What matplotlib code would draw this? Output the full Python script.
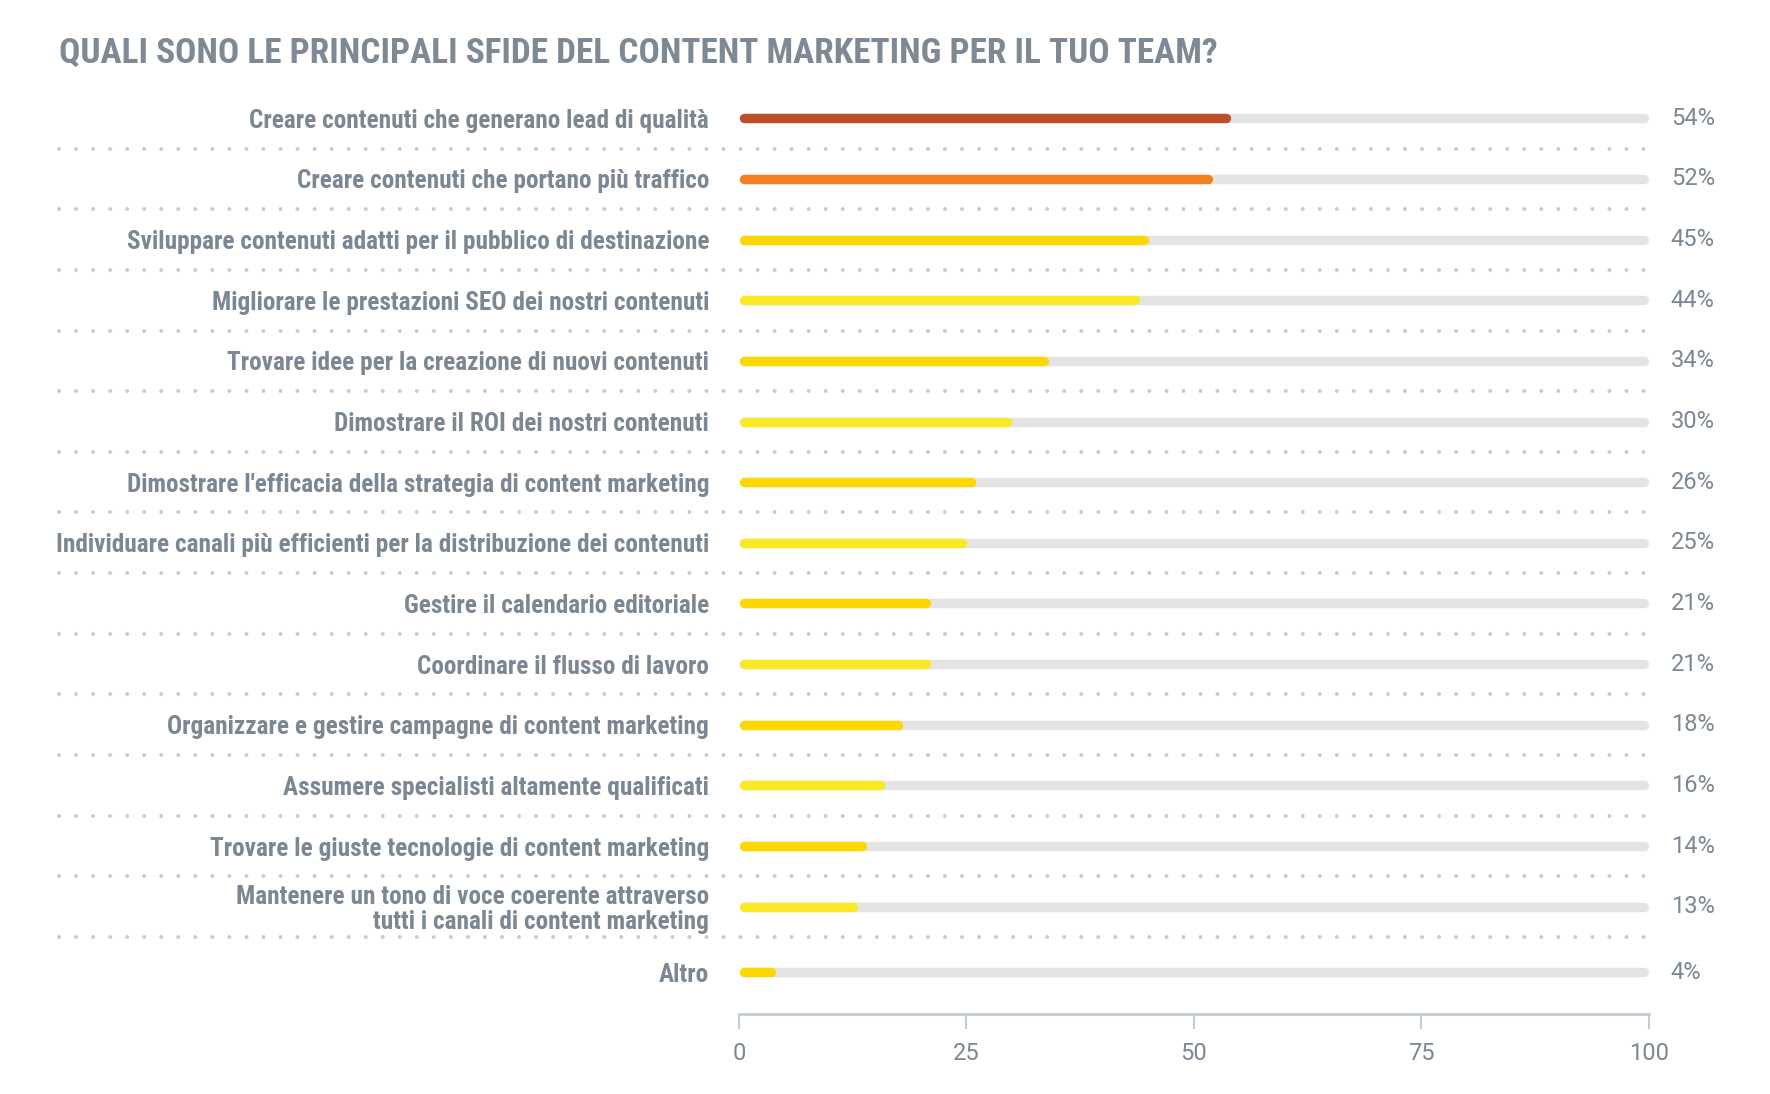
import numpy as np
import matplotlib
matplotlib.use("Agg")
import matplotlib.pyplot as plt
import matplotlib.transforms as mtransforms
from matplotlib import font_manager

# Data
labels = [
    "Creare contenuti che generano lead di qualità",
    "Creare contenuti che portano più traffico",
    "Sviluppare contenuti adatti per il pubblico di destinazione",
    "Migliorare le prestazioni SEO dei nostri contenuti",
    "Trovare idee per la creazione di nuovi contenuti",
    "Dimostrare il ROI dei nostri contenuti",
    "Dimostrare l'efficacia della strategia di content marketing",
    "Individuare canali più efficienti per la distribuzione dei contenuti",
    "Gestire il calendario editoriale",
    "Coordinare il flusso di lavoro",
    "Organizzare e gestire campagne di content marketing",
    "Assumere specialisti altamente qualificati",
    "Trovare le giuste tecnologie di content marketing",
    "Mantenere un tono di voce coerente attraverso\ntutti i canali di content marketing",
    "Altro",
]
values = [54, 52, 45, 44, 34, 30, 26, 25, 21, 21, 18, 16, 14, 13, 4]
bar_colors = ["#bd4f28", "#f47f20"] + ["#fdd800", "#f9e924"] * 6 + ["#fdd800"]
x_ticks = [0, 25, 50, 75, 100]

title = "QUALI SONO LE PRINCIPALI SFIDE DEL CONTENT MARKETING PER IL TUO TEAM?"

# pick a condensed face if one is installed, else plain Roboto
names = sorted({f.name for f in font_manager.fontManager.ttflist})
cond = [n for n in names if "Condensed" in n and "Roboto" in n]
bold_family = cond[0] if cond else "Roboto"
plt.rcParams["font.family"] = ["Roboto", "DejaVu Sans"]

text_gray = "#7b8792"
dot_gray = "#c3cdd7"
track_gray = "#e5e4e2"

fig = plt.figure(figsize=(17.7, 10.94), dpi=100)
ax = fig.add_axes([0.4175, 0.0731, 0.5141, 0.8465])

# row positions: the two-line row gets a little extra room below it
row_gap = [1.0] * 13 + [1.08]
ypos = np.concatenate([[0], np.cumsum(row_gap)])

bar_lw = 6.8
for y, v, c in zip(ypos, values, bar_colors):
    ax.plot([0.5, 99.5], [y, y], color=track_gray, lw=bar_lw,
            solid_capstyle="round", zorder=1)
    ax.plot([0.5, v - 0.5], [y, y], color=c, lw=bar_lw,
            solid_capstyle="round", zorder=2)
    ax.text(102.4, y, f"{v}%", va="center", ha="left", fontsize=17,
            color=text_gray, clip_on=False)

# dotted separators between rows, running from the left margin
trans = mtransforms.blended_transform_factory(fig.transFigure, ax.transData)
for k in range(len(values) - 1):
    ys = (ypos[k] + ypos[k + 1]) / 2 if k < 13 else ypos[k] + 0.5
    ax.plot([0.0333, 0.9335], [ys, ys], transform=trans, color=dot_gray,
            lw=2.9, linestyle=(0, (0.01, 4.22)), dash_capstyle="round",
            solid_capstyle="round", clip_on=False)

ax.set_xlim(0, 100)
ax.set_ylim(ypos[-1] + 0.69, -0.5)

ax.set_yticks(ypos)
ax.set_yticklabels(labels, fontsize=18.2, fontweight="bold", color=text_gray,
                   family=[bold_family, "DejaVu Sans"], linespacing=1.05)
ax.tick_params(axis="y", length=0, pad=21.5)

ax.set_xticks(x_ticks)
ax.set_xticklabels([str(t) for t in x_ticks], fontsize=17, color=text_gray)
ax.tick_params(axis="x", length=11, width=1.5, color=dot_gray, pad=9)

for s in ["top", "right", "left"]:
    ax.spines[s].set_visible(False)
ax.spines["bottom"].set_color(dot_gray)
ax.spines["bottom"].set_linewidth(2)

fig.text(0.0333, 0.951, title, fontsize=25.4, fontweight="bold",
         color="#7d8a96", family=[bold_family, "DejaVu Sans"],
         ha="left", va="center")

fig.savefig("out.png", dpi=100)
